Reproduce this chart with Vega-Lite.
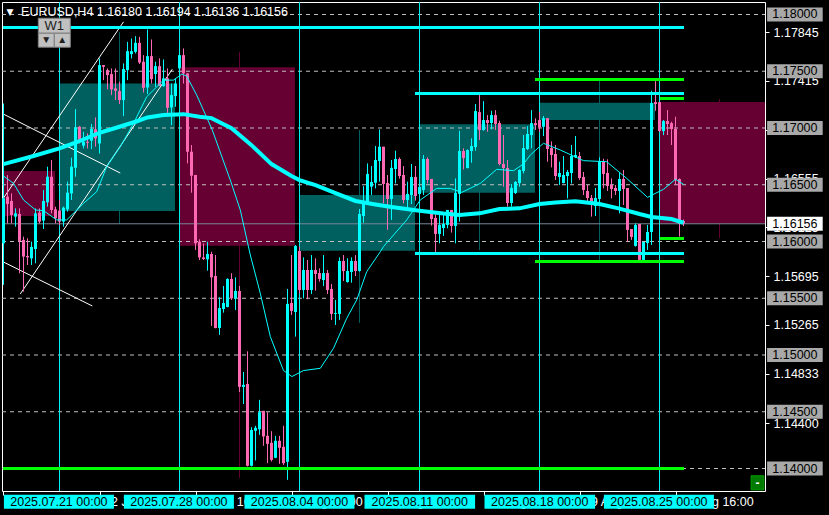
{"$schema":"https://vega.github.io/schema/vega-lite/v6.json","width":763,"height":489,"autosize":"none","padding":{"left":2,"top":2,"right":64,"bottom":24},"background":"#000000","view":{"stroke":"#ffffff","strokeWidth":1,"fill":"#000000"},
"datasets":{
"weekly":[{"k":-0.125,"k2":12.875,"p":1.16621,"p2":1.16224,"bull":false},{"k":14.125,"k2":42.875,"p":1.17393,"p2":1.16268,"bull":true},{"k":44.125,"k2":72.875,"p":1.17536,"p2":1.15962,"bull":false},{"k":74.125,"k2":102.875,"p":1.16409,"p2":1.15919,"bull":true},{"k":104.125,"k2":132.875,"p":1.17034,"p2":1.1643,"bull":true},{"k":134.125,"k2":162.875,"p":1.17222,"p2":1.1707,"bull":true},{"k":164.125,"k2":190.375,"p":1.17228,"p2":1.16156,"bull":false}],
"weeklyWicks":[{"k":29,"p":1.17844,"p2":1.16154,"bull":true},{"k":59,"p":1.17668,"p2":1.13918,"bull":false},{"k":89,"p":1.16982,"p2":1.15283,"bull":true},{"k":119,"p":1.17281,"p2":1.15925,"bull":true},{"k":149,"p":1.17422,"p2":1.15837,"bull":true},{"k":179,"p":1.17254,"p2":1.16031,"bull":false}],
"grid":[{"k":-0.375,"k2":190.375,"p":1.18},{"k":-0.375,"k2":190.375,"p":1.175},{"k":-0.375,"k2":190.375,"p":1.17},{"k":-0.375,"k2":190.375,"p":1.165},{"k":-0.375,"k2":190.375,"p":1.16},{"k":-0.375,"k2":190.375,"p":1.155},{"k":-0.375,"k2":190.375,"p":1.15},{"k":-0.375,"k2":190.375,"p":1.145},{"k":-0.375,"k2":190.375,"p":1.14}],
"weeks":[{"k":14,"p":1.181101,"p2":1.138018},{"k":44,"p":1.181101,"p2":1.138018},{"k":74,"p":1.181101,"p2":1.138018},{"k":104,"p":1.181101,"p2":1.138018},{"k":134,"p":1.181101,"p2":1.138018},{"k":164,"p":1.181101,"p2":1.138018}],
"trend":[{"id":"A","k":0,"p":1.16383},{"id":"A","k":30,"p":1.17935},{"id":"B","k":4.2,"p":1.15538},{"id":"B","k":42.2,"p":1.17518},{"id":"C","k":0,"p":1.17122},{"id":"C","k":29.2,"p":1.16603},{"id":"D","k":0,"p":1.15819},{"id":"D","k":22.2,"p":1.15432}],
"candles":[
{"k":0,"o":1.15984,"h":1.17216,"l":1.15618,"c":1.16381},{"k":1,"o":1.16395,"h":1.16585,"l":1.1616,"c":1.1633},{"k":2,"o":1.16357,"h":1.16424,"l":1.1616,"c":1.16234},{"k":3,"o":1.16219,"h":1.16292,"l":1.16131,"c":1.16248},{"k":4,"o":1.16242,"h":1.16292,"l":1.1572,"c":1.16005},{"k":5,"o":1.16014,"h":1.16043,"l":1.15559,"c":1.15867},{"k":6,"o":1.15873,"h":1.16028,"l":1.15793,"c":1.15861},{"k":7,"o":1.15852,"h":1.15999,"l":1.15793,"c":1.15952},{"k":8,"o":1.15934,"h":1.16292,"l":1.15808,"c":1.16248},{"k":9,"o":1.16254,"h":1.16292,"l":1.1616,"c":1.16175},
{"k":10,"o":1.16184,"h":1.16454,"l":1.1611,"c":1.16357},{"k":11,"o":1.16345,"h":1.16659,"l":1.16307,"c":1.16571},{"k":12,"o":1.16571,"h":1.16718,"l":1.16248,"c":1.16278},{"k":13,"o":1.16283,"h":1.16307,"l":1.1616,"c":1.16204},{"k":14,"o":1.16272,"h":1.16366,"l":1.16146,"c":1.16175},{"k":15,"o":1.16175,"h":1.16307,"l":1.16131,"c":1.16298},{"k":16,"o":1.16283,"h":1.16527,"l":1.16263,"c":1.1643},{"k":17,"o":1.16424,"h":1.16738,"l":1.16366,"c":1.16659},{"k":18,"o":1.1665,"h":1.17167,"l":1.16571,"c":1.17005},{"k":19,"o":1.17011,"h":1.17017,"l":1.16864,"c":1.16885},
{"k":20,"o":1.16844,"h":1.16967,"l":1.1682,"c":1.16879},{"k":21,"o":1.16879,"h":1.16952,"l":1.1682,"c":1.1687},{"k":22,"o":1.16888,"h":1.17035,"l":1.16814,"c":1.16991},{"k":23,"o":1.16988,"h":1.17093,"l":1.16835,"c":1.16908},{"k":24,"o":1.16864,"h":1.17613,"l":1.16776,"c":1.17554},{"k":25,"o":1.17554,"h":1.17554,"l":1.17422,"c":1.17539},{"k":26,"o":1.1751,"h":1.17525,"l":1.1734,"c":1.17466},{"k":27,"o":1.17475,"h":1.17525,"l":1.1729,"c":1.1734},{"k":28,"o":1.17348,"h":1.17525,"l":1.17246,"c":1.17328},{"k":29,"o":1.17325,"h":1.17407,"l":1.17211,"c":1.17246},
{"k":30,"o":1.17246,"h":1.17569,"l":1.17105,"c":1.17519},{"k":31,"o":1.1751,"h":1.17759,"l":1.17422,"c":1.17677},{"k":32,"o":1.17651,"h":1.17789,"l":1.17613,"c":1.17677},{"k":33,"o":1.17671,"h":1.17809,"l":1.17657,"c":1.1775},{"k":34,"o":1.1775,"h":1.17803,"l":1.17563,"c":1.17577},{"k":35,"o":1.17583,"h":1.17642,"l":1.17313,"c":1.17354},{"k":36,"o":1.17357,"h":1.17868,"l":1.17299,"c":1.17633},{"k":37,"o":1.17633,"h":1.1778,"l":1.17392,"c":1.17431},{"k":38,"o":1.17475,"h":1.17583,"l":1.17363,"c":1.17545},{"k":39,"o":1.17545,"h":1.17613,"l":1.17369,"c":1.17372},
{"k":40,"o":1.17369,"h":1.17604,"l":1.17363,"c":1.17437},{"k":41,"o":1.17437,"h":1.17525,"l":1.17128,"c":1.17178},{"k":42,"o":1.17181,"h":1.17392,"l":1.17026,"c":1.1729},{"k":43,"o":1.17281,"h":1.17437,"l":1.17187,"c":1.17392},{"k":44,"o":1.17525,"h":1.17715,"l":1.17451,"c":1.17642},{"k":45,"o":1.17642,"h":1.17701,"l":1.17392,"c":1.17481},{"k":46,"o":1.17481,"h":1.17481,"l":1.16688,"c":1.16791},{"k":47,"o":1.16791,"h":1.1685,"l":1.1643,"c":1.1658},{"k":48,"o":1.16586,"h":1.16586,"l":1.15926,"c":1.15984},{"k":49,"o":1.15998,"h":1.16019,"l":1.15837,"c":1.1586},
{"k":50,"o":1.1586,"h":1.15984,"l":1.15837,"c":1.15846},{"k":51,"o":1.15843,"h":1.15998,"l":1.15743,"c":1.1589},{"k":52,"o":1.1589,"h":1.1591,"l":1.15256,"c":1.15684},{"k":53,"o":1.15696,"h":1.15881,"l":1.15235,"c":1.15238},{"k":54,"o":1.15238,"h":1.15508,"l":1.15177,"c":1.15414},{"k":55,"o":1.15405,"h":1.15608,"l":1.15373,"c":1.15458},{"k":56,"o":1.15423,"h":1.15676,"l":1.1542,"c":1.1567},{"k":57,"o":1.1567,"h":1.1572,"l":1.15485,"c":1.15499},{"k":58,"o":1.15499,"h":1.15684,"l":1.15397,"c":1.15564},{"k":59,"o":1.15564,"h":1.15608,"l":1.14675,"c":1.14719},
{"k":60,"o":1.14719,"h":1.14851,"l":1.14569,"c":1.14737},{"k":61,"o":1.14745,"h":1.15033,"l":1.14018,"c":1.14024},{"k":62,"o":1.14024,"h":1.14364,"l":1.14018,"c":1.1434},{"k":63,"o":1.14332,"h":1.14376,"l":1.14071,"c":1.14358},{"k":64,"o":1.14346,"h":1.14605,"l":1.14296,"c":1.14496},{"k":65,"o":1.14508,"h":1.14508,"l":1.142,"c":1.14282},{"k":66,"o":1.14288,"h":1.14496,"l":1.14047,"c":1.14217},{"k":67,"o":1.14226,"h":1.14329,"l":1.14062,"c":1.14076},{"k":68,"o":1.14094,"h":1.14288,"l":1.14091,"c":1.14244},{"k":69,"o":1.14244,"h":1.14288,"l":1.14041,"c":1.14182},
{"k":70,"o":1.14191,"h":1.14376,"l":1.14032,"c":1.14047},{"k":71,"o":1.14059,"h":1.15582,"l":1.139,"c":1.1545},{"k":72,"o":1.15458,"h":1.15881,"l":1.15353,"c":1.15388},{"k":73,"o":1.15379,"h":1.15969,"l":1.15162,"c":1.1596},{"k":74,"o":1.15916,"h":1.15954,"l":1.15543,"c":1.15573},{"k":75,"o":1.15573,"h":1.1586,"l":1.15499,"c":1.15749},{"k":76,"o":1.15749,"h":1.15837,"l":1.15491,"c":1.15573},{"k":77,"o":1.15573,"h":1.15881,"l":1.15538,"c":1.15749},{"k":78,"o":1.15749,"h":1.15852,"l":1.15567,"c":1.15714},{"k":79,"o":1.15722,"h":1.15763,"l":1.15646,"c":1.1567},
{"k":80,"o":1.15661,"h":1.15881,"l":1.15608,"c":1.15722},{"k":81,"o":1.15722,"h":1.15749,"l":1.15538,"c":1.15573},{"k":82,"o":1.15582,"h":1.15626,"l":1.15309,"c":1.15362},{"k":83,"o":1.15362,"h":1.15485,"l":1.15265,"c":1.1537},{"k":84,"o":1.15362,"h":1.1586,"l":1.15309,"c":1.15828},{"k":85,"o":1.15828,"h":1.15881,"l":1.15652,"c":1.1574},{"k":86,"o":1.15643,"h":1.15852,"l":1.15637,"c":1.1574},{"k":87,"o":1.15731,"h":1.1586,"l":1.15637,"c":1.15828},{"k":88,"o":1.15828,"h":1.15881,"l":1.15696,"c":1.1574},{"k":89,"o":1.1574,"h":1.16286,"l":1.15734,"c":1.16242},
{"k":90,"o":1.16224,"h":1.16488,"l":1.16165,"c":1.16336},{"k":91,"o":1.16342,"h":1.16688,"l":1.16322,"c":1.16595},{"k":92,"o":1.16483,"h":1.16665,"l":1.1641,"c":1.16524},{"k":93,"o":1.16518,"h":1.16841,"l":1.16468,"c":1.16718},{"k":94,"o":1.16709,"h":1.16988,"l":1.16527,"c":1.16835},{"k":95,"o":1.16835,"h":1.16835,"l":1.16336,"c":1.16507},{"k":96,"o":1.16515,"h":1.16586,"l":1.16102,"c":1.16375},{"k":97,"o":1.16375,"h":1.16718,"l":1.1619,"c":1.16649},{"k":98,"o":1.16639,"h":1.168,"l":1.16512,"c":1.16727},{"k":99,"o":1.16727,"h":1.16741,"l":1.16554,"c":1.16577},
{"k":100,"o":1.16586,"h":1.16665,"l":1.16336,"c":1.16366},{"k":101,"o":1.16366,"h":1.16527,"l":1.16284,"c":1.16419},{"k":102,"o":1.1641,"h":1.16683,"l":1.16331,"c":1.16568},{"k":103,"o":1.16568,"h":1.16665,"l":1.1636,"c":1.16401},{"k":104,"o":1.16419,"h":1.16498,"l":1.1641,"c":1.1648},{"k":105,"o":1.16454,"h":1.16762,"l":1.1641,"c":1.16727},{"k":106,"o":1.16727,"h":1.16741,"l":1.16512,"c":1.16542},{"k":107,"o":1.16551,"h":1.16551,"l":1.1614,"c":1.16198},{"k":108,"o":1.16207,"h":1.16248,"l":1.15908,"c":1.16067},{"k":109,"o":1.16067,"h":1.16234,"l":1.15984,"c":1.16146},
{"k":110,"o":1.16119,"h":1.16234,"l":1.16049,"c":1.16155},{"k":111,"o":1.16146,"h":1.16278,"l":1.16116,"c":1.16278},{"k":112,"o":1.16278,"h":1.16278,"l":1.16078,"c":1.16137},{"k":113,"o":1.16137,"h":1.16556,"l":1.15984,"c":1.16427},{"k":114,"o":1.16419,"h":1.16976,"l":1.16175,"c":1.16797},{"k":115,"o":1.16797,"h":1.16821,"l":1.16636,"c":1.16735},{"k":116,"o":1.16647,"h":1.16812,"l":1.16644,"c":1.16806},{"k":117,"o":1.16797,"h":1.16909,"l":1.16694,"c":1.16841},{"k":118,"o":1.16832,"h":1.17211,"l":1.168,"c":1.17149},{"k":119,"o":1.1714,"h":1.1729,"l":1.16894,"c":1.16982},
{"k":120,"o":1.16982,"h":1.17237,"l":1.16976,"c":1.1707},{"k":121,"o":1.1707,"h":1.17114,"l":1.16967,"c":1.17044},{"k":122,"o":1.17044,"h":1.17152,"l":1.16988,"c":1.17114},{"k":123,"o":1.17114,"h":1.17158,"l":1.16982,"c":1.17035},{"k":124,"o":1.17044,"h":1.17064,"l":1.16671,"c":1.16683},{"k":125,"o":1.16683,"h":1.16938,"l":1.16483,"c":1.16647},{"k":126,"o":1.16647,"h":1.16718,"l":1.16307,"c":1.16339},{"k":127,"o":1.16339,"h":1.16507,"l":1.16307,"c":1.16471},{"k":128,"o":1.16427,"h":1.16533,"l":1.16419,"c":1.16524},{"k":129,"o":1.16515,"h":1.16636,"l":1.16483,"c":1.1663},
{"k":130,"o":1.16621,"h":1.16938,"l":1.166,"c":1.16823},{"k":131,"o":1.16815,"h":1.17017,"l":1.16806,"c":1.16947},{"k":132,"o":1.16938,"h":1.17158,"l":1.16821,"c":1.17043},{"k":133,"o":1.17043,"h":1.17085,"l":1.16982,"c":1.17026},{"k":134,"o":1.1707,"h":1.17143,"l":1.16967,"c":1.17005},{"k":135,"o":1.17011,"h":1.17105,"l":1.16929,"c":1.17087},{"k":136,"o":1.17087,"h":1.17087,"l":1.16703,"c":1.16815},{"k":137,"o":1.16823,"h":1.16882,"l":1.16653,"c":1.16762},{"k":138,"o":1.16771,"h":1.1685,"l":1.16542,"c":1.16577},{"k":139,"o":1.16568,"h":1.16703,"l":1.16498,"c":1.16603},
{"k":140,"o":1.16515,"h":1.16753,"l":1.16512,"c":1.16586},{"k":141,"o":1.16577,"h":1.1663,"l":1.1638,"c":1.16612},{"k":142,"o":1.16603,"h":1.1685,"l":1.16512,"c":1.16753},{"k":143,"o":1.16741,"h":1.16929,"l":1.16735,"c":1.16762},{"k":144,"o":1.16753,"h":1.16788,"l":1.16542,"c":1.16559},{"k":145,"o":1.16568,"h":1.16612,"l":1.1641,"c":1.16454},{"k":146,"o":1.16445,"h":1.16498,"l":1.16336,"c":1.16383},{"k":147,"o":1.16383,"h":1.1641,"l":1.16219,"c":1.16348},{"k":148,"o":1.16313,"h":1.16471,"l":1.16225,"c":1.16383},{"k":149,"o":1.16375,"h":1.16741,"l":1.16345,"c":1.16709},
{"k":150,"o":1.16709,"h":1.1673,"l":1.16468,"c":1.16595},{"k":151,"o":1.16603,"h":1.16724,"l":1.16445,"c":1.16489},{"k":152,"o":1.16498,"h":1.16556,"l":1.1638,"c":1.16463},{"k":153,"o":1.16471,"h":1.16498,"l":1.1641,"c":1.16445},{"k":154,"o":1.16445,"h":1.16612,"l":1.16248,"c":1.16551},{"k":155,"o":1.16551,"h":1.1663,"l":1.16322,"c":1.16463},{"k":156,"o":1.16471,"h":1.16471,"l":1.15999,"c":1.16102},{"k":157,"o":1.1611,"h":1.1611,"l":1.16014,"c":1.1604},{"k":158,"o":1.15961,"h":1.1616,"l":1.15955,"c":1.16146},{"k":159,"o":1.16154,"h":1.16154,"l":1.15832,"c":1.15838},
{"k":160,"o":1.15838,"h":1.15996,"l":1.15832,"c":1.15996},{"k":161,"o":1.15987,"h":1.16146,"l":1.15926,"c":1.16084},{"k":162,"o":1.16084,"h":1.17328,"l":1.1597,"c":1.1722},{"k":163,"o":1.17228,"h":1.17413,"l":1.17152,"c":1.17211},{"k":164,"o":1.17228,"h":1.17228,"l":1.16967,"c":1.16973},{"k":165,"o":1.16973,"h":1.1707,"l":1.16938,"c":1.17061},{"k":166,"o":1.17061,"h":1.17158,"l":1.16938,"c":1.17035},{"k":167,"o":1.17043,"h":1.17055,"l":1.1685,"c":1.16991},{"k":168,"o":1.16991,"h":1.17099,"l":1.16498,"c":1.16542},{"k":169,"o":1.16551,"h":1.16556,"l":1.16043,"c":1.16154},{"k":170,"o":1.1618,"h":1.16194,"l":1.16136,"c":1.16156}],
"maSlow":[{"k":0,"p":1.16682},{"k":7.5,"p":1.16753},{"k":14,"p":1.1682},{"k":18,"p":1.1687},{"k":24,"p":1.16958},{"k":29,"p":1.17011},{"k":33,"p":1.17055},{"k":36,"p":1.17093},{"k":40,"p":1.17114},{"k":45,"p":1.17122},{"k":49,"p":1.17099},{"k":52,"p":1.17087},{"k":57,"p":1.16999},{"k":62,"p":1.16849},{"k":67,"p":1.16682},{"k":72,"p":1.16577},{"k":74,"p":1.16541},{"k":78,"p":1.16497},{"k":83,"p":1.16427},{"k":88,"p":1.16357},{"k":93,"p":1.16326},{"k":97,"p":1.16304},{"k":104,"p":1.16271},{"k":110,"p":1.16246},{"k":114,"p":1.16233},{"k":119,"p":1.16248},{"k":124,"p":1.16286},{"k":129,"p":1.16292},{"k":134,"p":1.1633},{"k":138,"p":1.16343},{"k":143,"p":1.16354},{"k":149,"p":1.1633},{"k":154,"p":1.1629},{"k":159,"p":1.16242},{"k":162,"p":1.16216},{"k":167,"p":1.16198},{"k":170,"p":1.16165}],
"maFast":[{"k":0,"p":1.16577},{"k":2.5,"p":1.16512},{"k":5,"p":1.16366},{"k":8,"p":1.16278},{"k":10,"p":1.16272},{"k":13.3,"p":1.1619},{"k":15.8,"p":1.1619},{"k":20,"p":1.16336},{"k":23.3,"p":1.16439},{"k":25.8,"p":1.16659},{"k":29.2,"p":1.16835},{"k":32.5,"p":1.1704},{"k":35.8,"p":1.17275},{"k":40,"p":1.17422},{"k":42.5,"p":1.17422},{"k":44.6,"p":1.17475},{"k":45.8,"p":1.17457},{"k":48.3,"p":1.1729},{"k":52.2,"p":1.16982},{"k":56.7,"p":1.16541},{"k":59.2,"p":1.16277},{"k":61.7,"p":1.15881},{"k":64.2,"p":1.15543},{"k":66.7,"p":1.15162},{"k":70,"p":1.14863},{"k":72.1,"p":1.1481},{"k":75,"p":1.14863},{"k":79.2,"p":1.14883},{"k":82.5,"p":1.15059},{"k":85.8,"p":1.15323},{"k":88.3,"p":1.15485},{"k":90.8,"p":1.15734},{"k":94.2,"p":1.1591},{"k":95,"p":1.15955},{"k":100.8,"p":1.1619},{"k":104.2,"p":1.16366},{"k":108.3,"p":1.16468},{"k":111.7,"p":1.16468},{"k":114.6,"p":1.16433},{"k":119.2,"p":1.16512},{"k":123.3,"p":1.16636},{"k":127.5,"p":1.16624},{"k":130,"p":1.16683},{"k":131.7,"p":1.16762},{"k":134.2,"p":1.16841},{"k":135,"p":1.16865},{"k":139.2,"p":1.16806},{"k":145,"p":1.16712},{"k":150.8,"p":1.16703},{"k":155.8,"p":1.16556},{"k":161,"p":1.16389},{"k":165,"p":1.1646},{"k":168,"p":1.16548},{"k":170,"p":1.16504}],
"levelsCyan":[{"k":-0.125,"k2":170.125,"p":1.178855},{"k":102.875,"k2":170.125,"p":1.17304},{"k":102.875,"k2":170.125,"p":1.158943}],
"levelsGreen":[{"k":-0.125,"k2":170.125,"p":1.14},{"k":132.875,"k2":170.125,"p":1.174273},{"k":132.875,"k2":170.125,"p":1.158238},{"k":164.125,"k2":170.125,"p":1.1726},{"k":164.125,"k2":170.125,"p":1.160264}],
"buttons":[{"k":8.7,"k2":16.7,"p":1.17967,"p2":1.17835},{"k":8.7,"k2":12.7,"p":1.17835,"p2":1.17712},{"k":12.7,"k2":16.7,"p":1.17835,"p2":1.17712}],
"buttonText":[{"k":12.7,"p":1.17901,"t":"W1","s":"big"},{"k":10.7,"p":1.17773,"t":"▼","s":"small"},{"k":14.7,"p":1.17773,"t":"▲","s":"small"}],
"header":[{"k":4.4,"p":1.1802,"t":"EURUSD,H4  1.16180 1.16194 1.16136 1.16156"}],
"headerMark":[{"k":1.6,"p":1.1802,"t":"▼"}],
"tags":[
{"kind":"price","k":190.9,"k2":204.8,"xc":197.85,"p":1.18,"hi":1.18062,"lo":1.17938,"t":"1.18000"},{"kind":"price","k":190.9,"k2":204.8,"xc":197.85,"p":1.175,"hi":1.17562,"lo":1.17438,"t":"1.17500"},{"kind":"price","k":190.9,"k2":204.8,"xc":197.85,"p":1.17,"hi":1.17062,"lo":1.16938,"t":"1.17000"},{"kind":"price","k":190.9,"k2":204.8,"xc":197.85,"p":1.165,"hi":1.16562,"lo":1.16438,"t":"1.16500"},{"kind":"now","k":190.9,"k2":204.8,"xc":197.85,"p":1.16156,"hi":1.16218,"lo":1.16094,"t":"1.16156"},{"kind":"price","k":190.9,"k2":204.8,"xc":197.85,"p":1.16,"hi":1.16062,"lo":1.15938,"t":"1.16000"},{"kind":"price","k":190.9,"k2":204.8,"xc":197.85,"p":1.155,"hi":1.15562,"lo":1.15438,"t":"1.15500"},{"kind":"price","k":190.9,"k2":204.8,"xc":197.85,"p":1.15,"hi":1.15062,"lo":1.14938,"t":"1.15000"},{"kind":"price","k":190.9,"k2":204.8,"xc":197.85,"p":1.145,"hi":1.14562,"lo":1.14438,"t":"1.14500"},{"kind":"price","k":190.9,"k2":204.8,"xc":197.85,"p":1.14,"hi":1.14062,"lo":1.13938,"t":"1.14000"},
{"kind":"time","k":0.1,"k2":27.6,"xc":13.85,"p":1.13706,"hi":1.13768,"lo":1.13645,"t":"2025.07.21 00:00"},{"kind":"time","k":30.1,"k2":57.6,"xc":43.85,"p":1.13706,"hi":1.13768,"lo":1.13645,"t":"2025.07.28 00:00"},{"kind":"time","k":60.25,"k2":87.75,"xc":74,"p":1.13706,"hi":1.13768,"lo":1.13645,"t":"2025.08.04 00:00"},{"kind":"time","k":90.25,"k2":117.9,"xc":104.07,"p":1.13706,"hi":1.13768,"lo":1.13645,"t":"2025.08.11 00:00"},{"kind":"time","k":120.25,"k2":147.9,"xc":134.07,"p":1.13706,"hi":1.13768,"lo":1.13645,"t":"2025.08.18 00:00"},{"kind":"time","k":150.1,"k2":177.6,"xc":163.85,"p":1.13706,"hi":1.13768,"lo":1.13645,"t":"2025.08.25 00:00"}],
"shift":[{"k":186.9,"k2":190.1,"xc":188.5,"p":1.13874,"hi":1.13936,"lo":1.13812,"t":"-"}],
"now":[{"k":-0.375,"k2":190.375,"p":1.16156}]
},
"data":{"name":"weekly"},
"encoding":{
"x":{"field":"k","type":"quantitative","scale":{"domain":[-0.375,190.375],"nice":false,"zero":false,"padding":0},"axis":{"orient":"bottom","title":null,"grid":false,"domain":false,"values":[0,24,48,72,96,120,144,168],"tickColor":"#ffffff","tickSize":4,"labelColor":"#ffffff","labelFont":"Liberation Sans","labelFontSize":12.5,"labelAlign":"left","labelOffset":4,"labelPadding":0,"labelOverlap":false,"labelFlush":false,"labelBound":false,"labelExpr":"{'0':'17 Jul 16:00','24':'22 Jul 16:00','48':'28 Jul 16:00','72':'1 Aug 16:00','96':'7 Aug 16:00','120':'13 Aug 16:00','144':'19 Aug 16:00','168':'25 Aug 16:00'}[datum.value]"}},
"y":{"field":"p","type":"quantitative","scale":{"domain":[1.138018,1.181101],"nice":false,"zero":false},"axis":{"orient":"right","title":null,"grid":false,"domain":false,"values":[1.17845,1.17415,1.16985,1.16555,1.16125,1.15695,1.15265,1.14833,1.144],"format":".5f","tickColor":"#ffffff","tickSize":4,"labelColor":"#ffffff","labelFont":"Liberation Sans","labelFontSize":12.5,"labelPadding":4,"labelOverlap":false,"labelFlush":false,"labelBound":false}}
},
"layer":[
{"mark":{"type":"rect"},"encoding":{"x2":{"field":"k2"},"y2":{"field":"p2"},"color":{"condition":{"test":"datum.bull","value":"#006060"},"value":"#660033"}}},
{"data":{"name":"weeklyWicks"},"mark":{"type":"rule","strokeWidth":1},"encoding":{"y2":{"field":"p2"},"color":{"condition":{"test":"datum.bull","value":"#006060"},"value":"#660033"}}},
{"data":{"name":"grid"},"mark":{"type":"rule","color":"#c0c0c0","strokeWidth":1,"strokeDash":[4,4]},"encoding":{"x2":{"field":"k2"}}},
{"data":{"name":"now"},"mark":{"type":"rule","color":"#778899","strokeWidth":1},"encoding":{"x2":{"field":"k2"}}},
{"data":{"name":"weeks"},"mark":{"type":"rule","color":"#00f0f0","strokeWidth":1},"encoding":{"y2":{"field":"p2"}}},
{"data":{"name":"trend"},"mark":{"type":"line","color":"#ffffff","strokeWidth":1},"encoding":{"detail":{"field":"id"}}},
{"data":{"name":"candles"},"mark":{"type":"rule","strokeWidth":1},"encoding":{"y":{"field":"h","type":"quantitative"},"y2":{"field":"l"},"color":{"condition":{"test":"datum.c>=datum.o","value":"#00ffff"},"value":"#ff69b4"}}},
{"data":{"name":"candles"},"mark":{"type":"bar","size":3,"orient":"vertical"},"encoding":{"y":{"field":"o","type":"quantitative"},"y2":{"field":"c"},"color":{"condition":{"test":"datum.c>=datum.o","value":"#00ffff"},"value":"#ff69b4"}}},
{"data":{"name":"maFast"},"mark":{"type":"line","color":"#00ffff","strokeWidth":1}},
{"data":{"name":"maSlow"},"mark":{"type":"line","color":"#00ffff","strokeWidth":4}},
{"data":{"name":"levelsCyan"},"mark":{"type":"rule","color":"#00ffff","strokeWidth":3},"encoding":{"x2":{"field":"k2"}}},
{"data":{"name":"levelsGreen"},"mark":{"type":"rule","color":"#00ff00","strokeWidth":3},"encoding":{"x2":{"field":"k2"}}},
{"data":{"name":"buttons"},"mark":{"type":"rect","color":"#c0c0c0","stroke":"#808080","strokeWidth":1},"encoding":{"x2":{"field":"k2"},"y2":{"field":"p2"}}},
{"data":{"name":"buttonText"},"mark":{"type":"text","font":"Liberation Sans","color":"#202020","align":"center","baseline":"middle"},"encoding":{"text":{"field":"t"},"size":{"field":"s","type":"nominal","legend":null,"scale":{"domain":["big","small"],"range":[13,10]}}}},
{"data":{"name":"header"},"mark":{"type":"text","font":"Liberation Sans","fontSize":12.5,"color":"#ffffff","align":"left","baseline":"middle"},"encoding":{"text":{"field":"t"}}},
{"data":{"name":"headerMark"},"mark":{"type":"text","font":"DejaVu Sans","fontSize":9,"color":"#ffffff","align":"center","baseline":"middle"},"encoding":{"text":{"field":"t"}}},
{"data":{"name":"tags"},"mark":{"type":"rect"},"encoding":{"x2":{"field":"k2"},"y":{"field":"hi","type":"quantitative"},"y2":{"field":"lo"},"color":{"condition":[{"test":"datum.kind==='time'","value":"#00ffff"},{"test":"datum.kind==='now'","value":"#ffffff"}],"value":"#a9a9a9"}}},
{"data":{"name":"tags"},"mark":{"type":"text","font":"Liberation Sans","fontSize":12.5,"color":"#000000","align":"center","baseline":"middle"},"encoding":{"x":{"field":"xc","type":"quantitative"},"text":{"field":"t"}}},
{"data":{"name":"shift"},"mark":{"type":"rect","color":"#007a00","stroke":"#00a000","strokeWidth":1},"encoding":{"x2":{"field":"k2"},"y":{"field":"hi","type":"quantitative"},"y2":{"field":"lo"}}},
{"data":{"name":"shift"},"mark":{"type":"text","font":"Liberation Sans","fontSize":12,"fontWeight":"bold","color":"#ffffff","align":"center","baseline":"middle"},"encoding":{"x":{"field":"xc","type":"quantitative"},"text":{"field":"t"}}}
]}
